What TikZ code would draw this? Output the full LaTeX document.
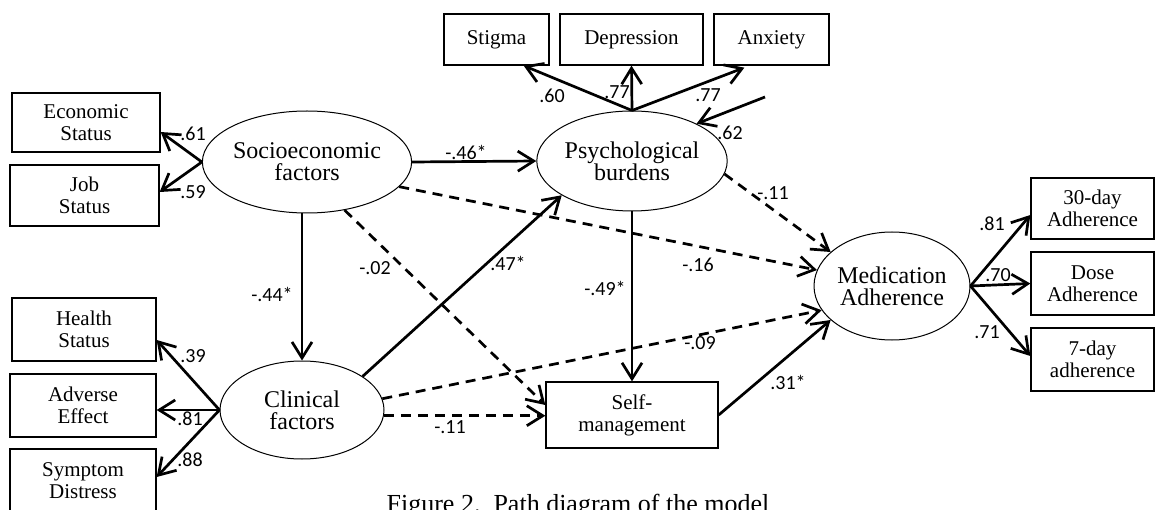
\documentclass[tikz,border=0pt]{standalone}
\usepackage{fontspec}
\setmainfont{Liberation Serif}
\newfontfamily\numfont{Carlito}
\usetikzlibrary{arrows.meta,shapes.geometric}
\tikzset{
  obs/.style={draw, line width=1.3pt, rectangle, inner sep=0pt, align=center,
    font=\fontsize{21}{22}\selectfont},
  lat/.style={draw, line width=1pt, ellipse, inner sep=0pt, align=center,
    font=\fontsize{24}{22}\selectfont},
  path/.style={line width=2.7pt, -{Straight Barb[length=16pt,width=20pt]}},
  dpath/.style={path, dash pattern=on 10pt off 7pt},
  coef/.style={font=\numfont\fontsize{20}{20}\selectfont, inner sep=0pt},
}
\begin{document}
\begin{tikzpicture}[x=1pt,y=-1pt]
\useasboundingbox (0,0) rectangle (1155,510);
% observed boxes
\node[obs, minimum width=148pt, minimum height=59pt] (econ) at (86,122.5) {Economic\\Status};
\node[obs, minimum width=149pt, minimum height=61pt] (job) at (84.5,195.5) {Job\\Status};
\node[obs, minimum width=144pt, minimum height=63pt] (health) at (84,329.5) {Health\\Status};
\node[obs, minimum width=146pt, minimum height=63pt] (adverse) at (83,405.5) {Adverse\\Effect};
\node[obs, minimum width=146pt, minimum height=63pt] (symptom) at (83,480.5) {Symptom\\Distress};
\node[obs, minimum width=105pt, minimum height=51pt] (stigma) at (496.5,39.5) {Stigma};
\node[obs, minimum width=143pt, minimum height=51pt] (depr) at (631.5,39.5) {Depression};
\node[obs, minimum width=115pt, minimum height=51pt] (anx) at (771.5,39.5) {Anxiety};
\node[obs, minimum width=123pt, minimum height=61pt] (d30) at (1092.5,208.5) {30-day\\Adherence};
\node[obs, minimum width=123pt, minimum height=63pt] (dose) at (1092.5,283.5) {Dose\\Adherence};
\node[obs, minimum width=123pt, minimum height=63pt] (d7) at (1092.5,359.5) {7-day\\adherence};
\node[obs, minimum width=172pt, minimum height=66pt] (selfm) at (632,415) {Self-\\management};
% latent ellipses
\node[lat, minimum width=170pt, minimum height=102pt] (soc) at (307,162) {Socioeconomic\\factors};
\node[lat, minimum width=160pt, minimum height=100pt] (psy) at (632,161) {Psychological\\burdens};
\node[lat, minimum width=164pt, minimum height=98pt] (cli) at (302,410) {Clinical\\factors};
\node[lat, minimum width=156pt, minimum height=108pt] (med) at (892,286) {Medication\\Adherence};
\coordinate (res) at (765,97);
% measurement paths
\draw[path] (soc.west) -- ([yshift=-9.5pt]econ.east);
\draw[path] (soc.west) -- ([yshift=3.5pt]job.east);
\draw[path] (cli.west) -- ([yshift=-10.5pt]health.east);
\draw[path] (cli.west) -- ([yshift=-4.5pt]adverse.east);
\draw[path] (cli.west) -- ([yshift=3.5pt]symptom.east);
\draw[path] (psy.north) -- ([xshift=-26pt]stigma.south east);
\draw[path] (psy.north) -- (depr.south);
\draw[path] (psy.north) -- ([xshift=31pt,yshift=-2pt]anx.south west);
\draw[path] (res) -- (psy.30);
\draw[path] (med.east) -- ([yshift=-6.5pt]d30.west);
\draw[path] (med.east) -- (dose.west);
\draw[path] (med.east) -- ([yshift=3.5pt]d7.west);
% structural paths
\draw[path] (soc.east) -- (psy.west);
\draw[path] (soc.south -| cli.north) -- (cli.north);
\draw[path] (psy.south) -- (selfm.north);
\draw[path] (cli.29) -- (psy.206);
\draw[path] (selfm.east) -- (med.209);
\draw[dpath] (psy.-8) -- (med.151);
\draw[dpath] (soc.-15) -- (med.168);
\draw[dpath] (cli.8) -- (med.-161);
\draw[dpath] (soc.-52) -- ([yshift=10pt]selfm.west);
\draw[dpath] (cli.-4) -- (cli.-4 -| selfm.west);
% coefficients
\node[coef] (c1) at (193,134) {.61};
\node[coef] (c2) at (193,192) {.59};
\node[coef] (c3) at (193,356) {.39};
\node[coef] (c4) at (190,419) {.81};
\node[coef] (c5) at (190,460) {.88};
\node[coef] (c6) at (552,96) {.60};
\node[coef] (c7) at (617,92) {.77};
\node[coef] (c8) at (708,95) {.77};
\node[coef] (c9) at (730,133) {.62};
\node[coef] (c10) at (466,152) {-.46*};
\node[coef] (c11) at (272,294) {-.44*};
\node[coef] (c12) at (773,193) {-.11};
\node[coef] (c13) at (698,265) {-.16};
\node[coef] (c14) at (375,268) {-.02};
\node[coef] (c15) at (508,263) {.47*};
\node[coef] (c16) at (605,288) {-.49*};
\node[coef] (c17) at (700,343) {-.09};
\node[coef] (c18) at (450,427) {-.11};
\node[coef] (c19) at (788,382) {.31*};
\node[coef] (c20) at (992,224) {.81};
\node[coef] (c21) at (998,275) {.70};
\node[coef] (c22) at (987,332) {.71};
% caption
\node[anchor=base, inner sep=0pt, font=\fontsize{26}{28}\selectfont] (cap) at (578,512) {Figure 2.\ \ Path diagram of the model};
\end{tikzpicture}
\end{document}
